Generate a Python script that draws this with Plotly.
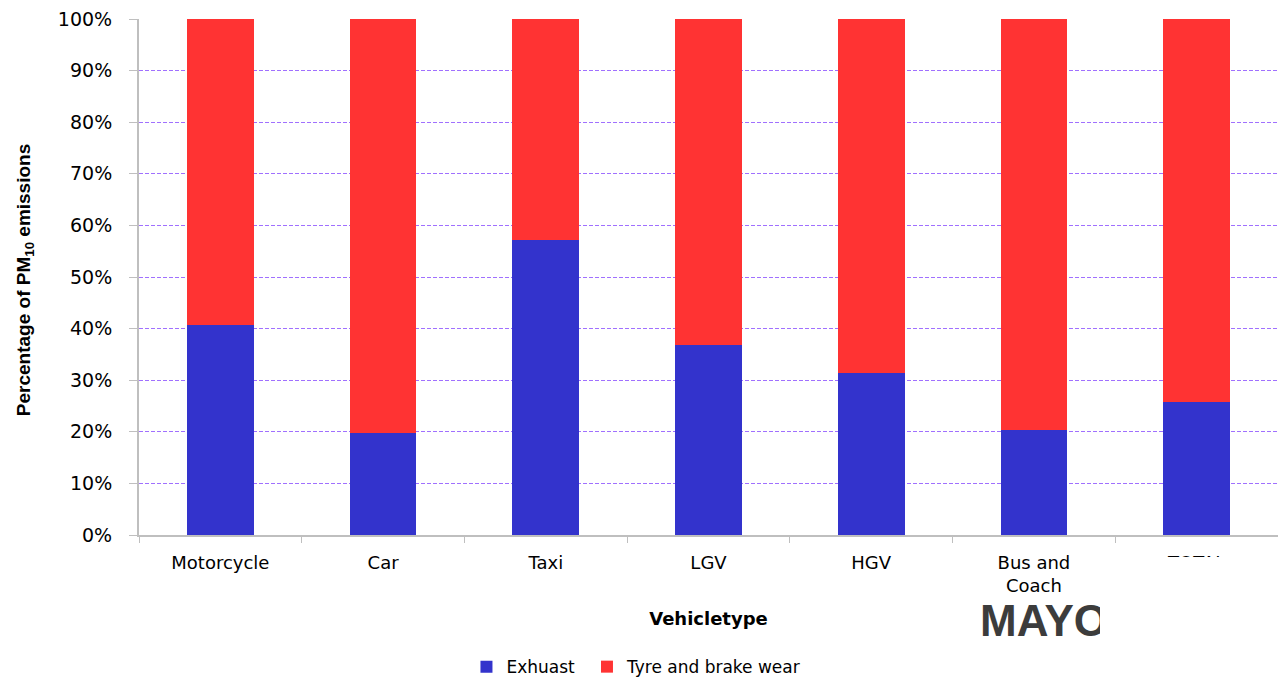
import plotly.graph_objects as go

categories = ["Motorcycle", "Car", "Taxi", "LGV", "HGV", "Bus and<br>Coach", "TOTAL"]
exhaust = [40.7, 19.8, 57.2, 36.8, 31.4, 20.3, 25.8]
tyre_brake = [59.3, 80.2, 42.8, 63.2, 68.6, 79.7, 74.2]
y_ticks = [0, 10, 20, 30, 40, 50, 60, 70, 80, 90, 100]
y_tick_text = [f"{v}%" for v in y_ticks]

FONT = "DejaVu Sans, Liberation Sans, Arial, sans-serif"
AFONT = "Liberation Sans, Arial, sans-serif"

fig = go.Figure()
fig.add_trace(go.Bar(x=categories, y=exhaust, name="Exhuast", legend="legend",
                     marker=dict(color="#3333cc", line=dict(width=0)), width=0.41))
fig.add_trace(go.Bar(x=categories, y=tyre_brake, name="Tyre and brake wear", legend="legend2",
                     marker=dict(color="#ff3333", line=dict(width=0)), width=0.41))

legend_common = dict(orientation="h", xanchor="left", y=-0.256, yanchor="middle",
                     font=dict(size=17, family=FONT), itemwidth=30, bgcolor="rgba(0,0,0,0)")

fig.update_layout(
    barmode="stack",
    width=1278, height=677,
    margin=dict(l=139, r=0, t=19, b=142, autoexpand=False),
    paper_bgcolor="white", plot_bgcolor="white",
    font=dict(family=FONT, color="#000000", size=18),
    showlegend=True,
    legend=dict(x=0.2875, **legend_common),
    legend2=dict(x=0.3933, **legend_common),
    xaxis=dict(
        type="category", showgrid=False, showline=True, linecolor="#bfbfbf", linewidth=2,
        ticks="outside", tickson="boundaries", ticklen=6, tickcolor="#bfbfbf",
        tickfont=dict(size=18, family=FONT), range=[-0.5, 6.5], automargin=False,
        ticklabelstandoff=10,
        title=dict(text="<b>Vehicletype</b>", font=dict(size=18, family=FONT), standoff=17),
    ),
    yaxis=dict(
        range=[0, 100], tickvals=y_ticks, ticktext=y_tick_text,
        showgrid=True, gridcolor="#a070ff", griddash="4px,2px", gridwidth=1,
        showline=True, linecolor="#bfbfbf", linewidth=2,
        ticks="outside", ticklen=8, tickcolor="#bfbfbf", automargin=False,
        ticklabelstandoff=13,
        tickfont=dict(size=19, family=FONT), zeroline=False,
    ),
    annotations=[
        dict(text="<b>Percentage of PM<sub>10</sub> emissions</b>", textangle=-90,
             xref="paper", yref="paper", x=-0.1, y=0.494, xanchor="center", yanchor="middle",
             showarrow=False, font=dict(size=19, family=AFONT)),
        dict(text="<b>MAYO</b>", xref="paper", yref="paper", x=0.737, y=-0.165,
             xanchor="left", yanchor="middle", align="left", width=120, showarrow=False,
             font=dict(size=44, family=AFONT, color="#3c3c3c")),
    ],
    shapes=[
        dict(type="rect", xref="paper", yref="paper", layer="above",
             x0=0.9, x1=1.0, y0=(535 - 557) / 516, y1=(535 - 600) / 516,
             fillcolor="white", line=dict(width=0)),
    ],
)

fig.write_html("out.html", config={"displayModeBar": False},
               post_script="document.body.style.margin='0px';")
